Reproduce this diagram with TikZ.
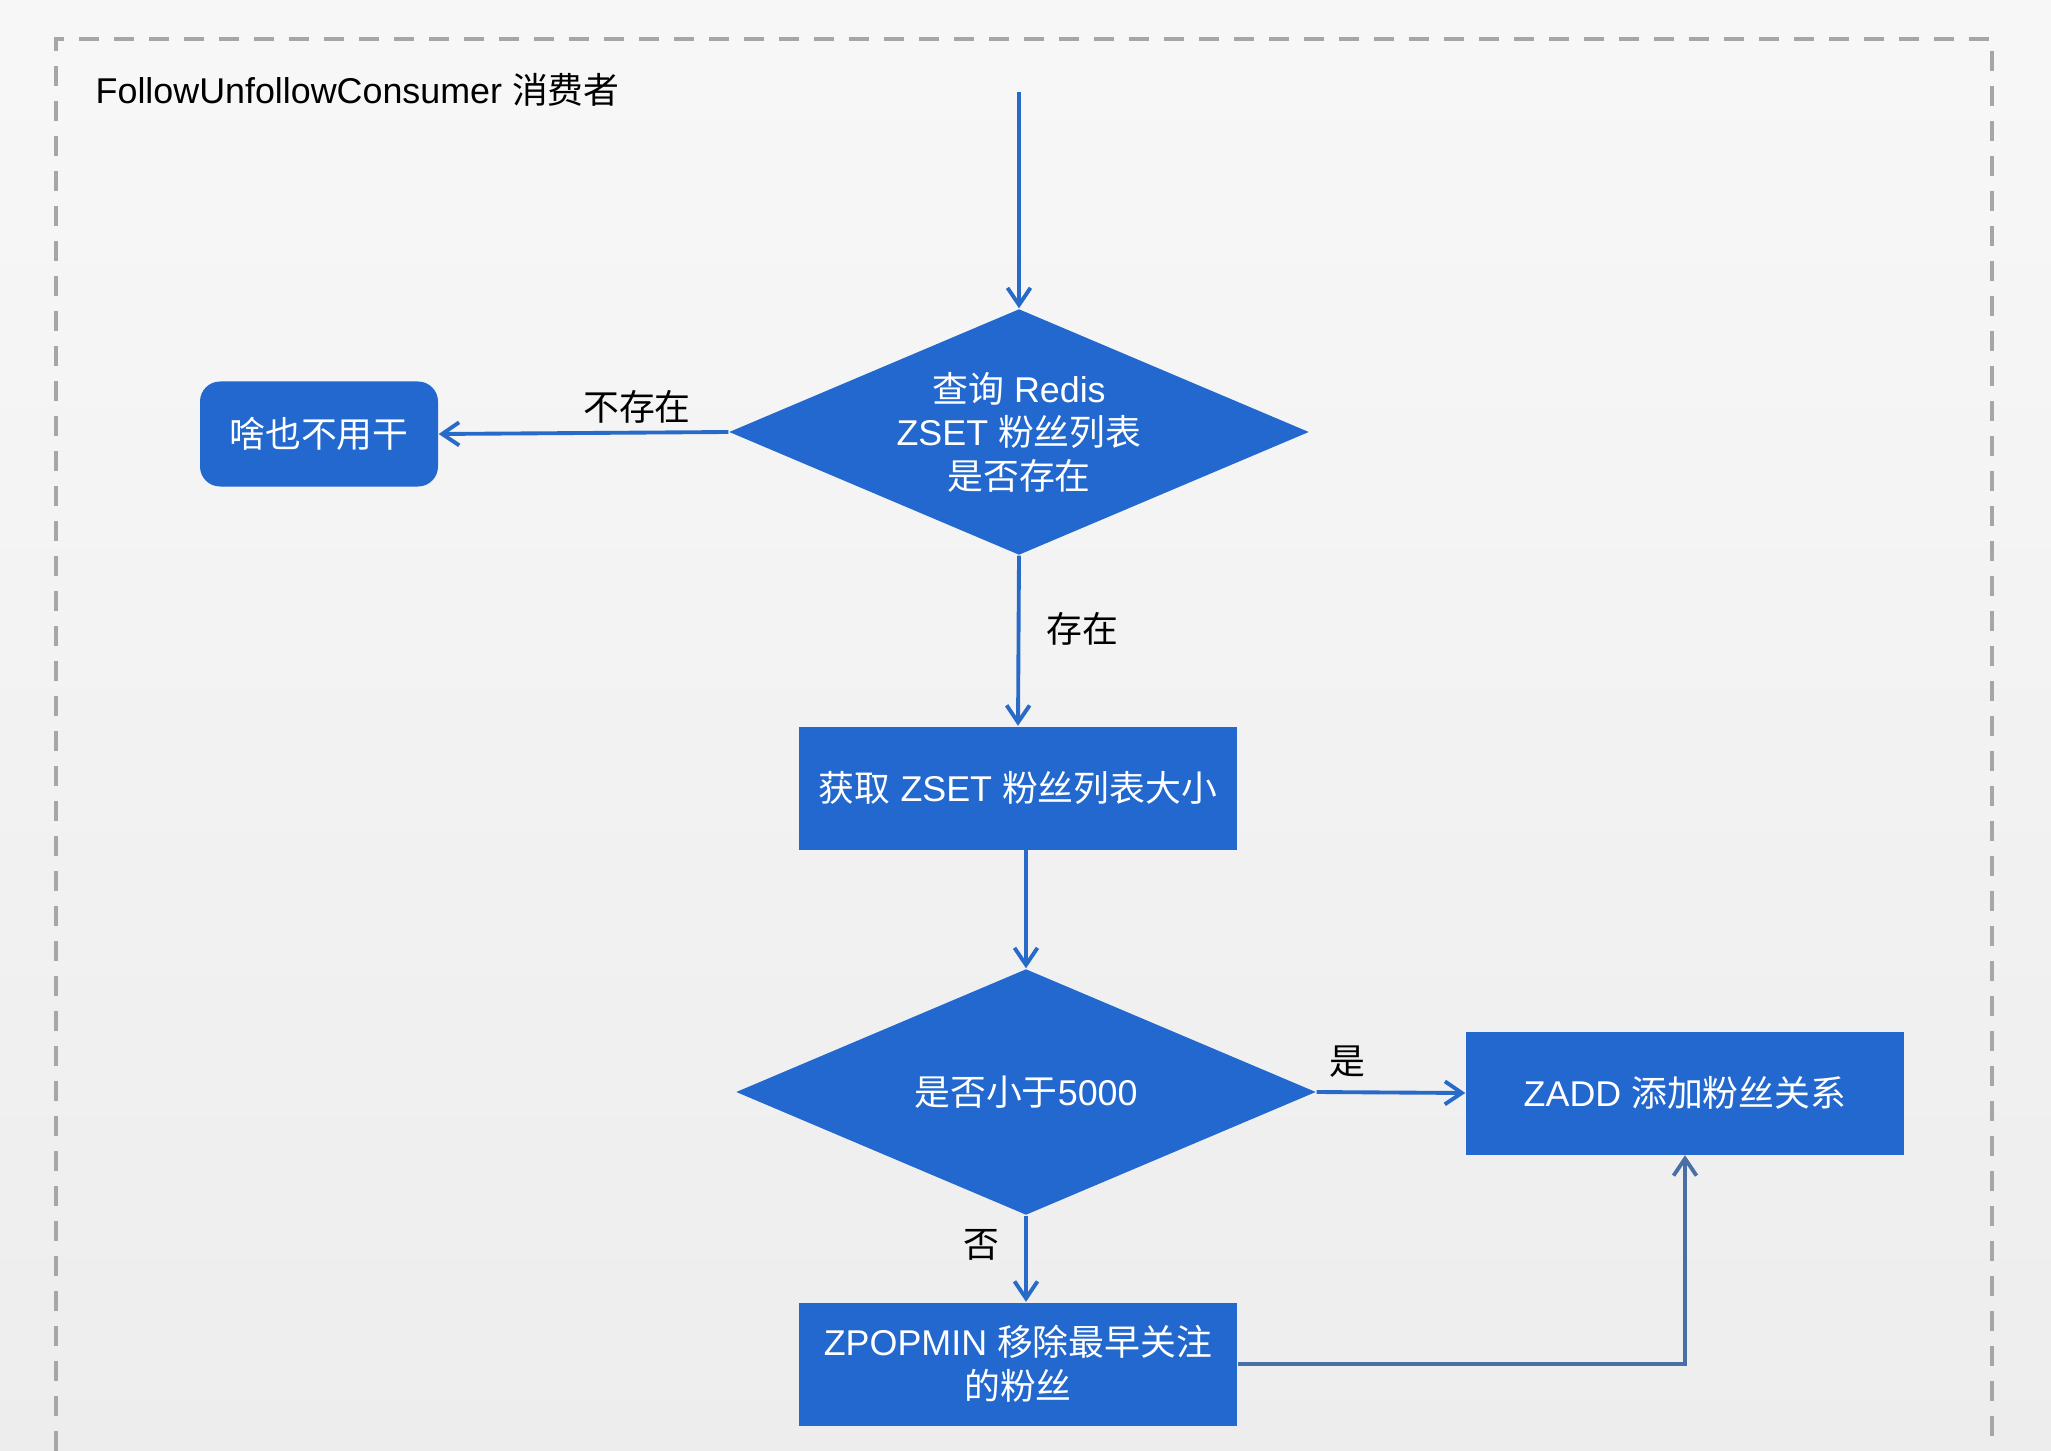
\documentclass[tikz,border=0pt]{standalone}
\usepackage{fontspec}
\setmainfont{Liberation Sans}
\newfontfamily\cjk{Noto Sans CJK SC}
\usepackage{xcolor}
\usetikzlibrary{arrows.meta,positioning,shapes.geometric}
\definecolor{flowblue}{RGB}{35,104,206}
\definecolor{lineblue}{RGB}{40,106,200}
\definecolor{backblue}{RGB}{74,111,165}
\definecolor{framegray}{RGB}{166,166,166}
\newcommand*{\zh}[1]{{\cjk #1}}
\newcommand*{\xMax}{2051}
\newcommand*{\yMax}{1451}

\begin{document}
\begin{tikzpicture}[x=0.1mm,y=-0.1mm,
  font=\fontsize{10.2}{12.4}\selectfont,
  stepbox/.style={rectangle,fill=flowblue,text=white,minimum width=43.8mm,minimum height=12.3mm,inner sep=0pt,align=center},
  idlebox/.style={stepbox,rounded corners=2mm,minimum width=23.8mm,minimum height=10.5mm},
  choice/.style={diamond,fill=flowblue,text=white,minimum width=58mm,minimum height=24.6mm,inner sep=0pt,shape aspect=2.36,align=center},
  flow/.style={draw=lineblue,line width=1.1pt,-{Straight Barb[length=1.7mm,width=2.3mm]}},
  tag/.style={text=black}]
	\shade[top color=black!3,bottom color=black!7] (0,0) rectangle (\xMax,\yMax);
	\useasboundingbox (0,0) rectangle (\xMax,\yMax);
	\draw[framegray,line width=1.35pt,dash pattern=on 2mm off 1.5mm] (56,\yMax) -- (56,39) -- (1992,39) -- (1992,\yMax);
	\node[anchor=west,inner sep=0pt] (title) at (95,90) {FollowUnfollowConsumer \zh{消费者}};
	\coordinate (start) at (1019,92);
	% steps
	\node[choice] (ask) at (1019,432) {\zh{查询} Redis\\ZSET \zh{粉丝列表}\\\zh{是否存在}};
	\node[idlebox] (idle) at (319,434) {\zh{啥也不用干}};
	\node[stepbox] (size) at (1018,788) {\zh{获取} ZSET \zh{粉丝列表大小}};
	\node[choice] (limit) at (1026,1092) {\zh{是否小于}5000};
	\node[stepbox] (zadd) at (1685,1093) {ZADD \zh{添加粉丝关系}};
	\node[stepbox] (pop) at (1018,1364) {ZPOPMIN \zh{移除最早关注}\\\zh{的粉丝}};
	% arrows
	\draw[flow] (start) -- (ask.north);
	\draw[flow] (ask.west) -- (idle.east);
	\draw[flow] (ask.south) -- (size.north);
	\draw[flow] (size.south -| limit.north) -- (limit.north);
	\draw[flow] (limit.east) -- (zadd.west);
	\draw[flow] (limit.south) -- (limit.south |- pop.north);
	\draw[flow,draw=backblue] (pop.east) -| (zadd.south);
	\node[tag] (nolist) at (637,407) {\zh{不存在}};
	\node[tag] (haslist) at (1082,629) {\zh{存在}};
	\node[tag] (yes) at (1347,1062) {\zh{是}};
	\node[tag] (no) at (981,1245) {\zh{否}};
\end{tikzpicture}
\end{document}
